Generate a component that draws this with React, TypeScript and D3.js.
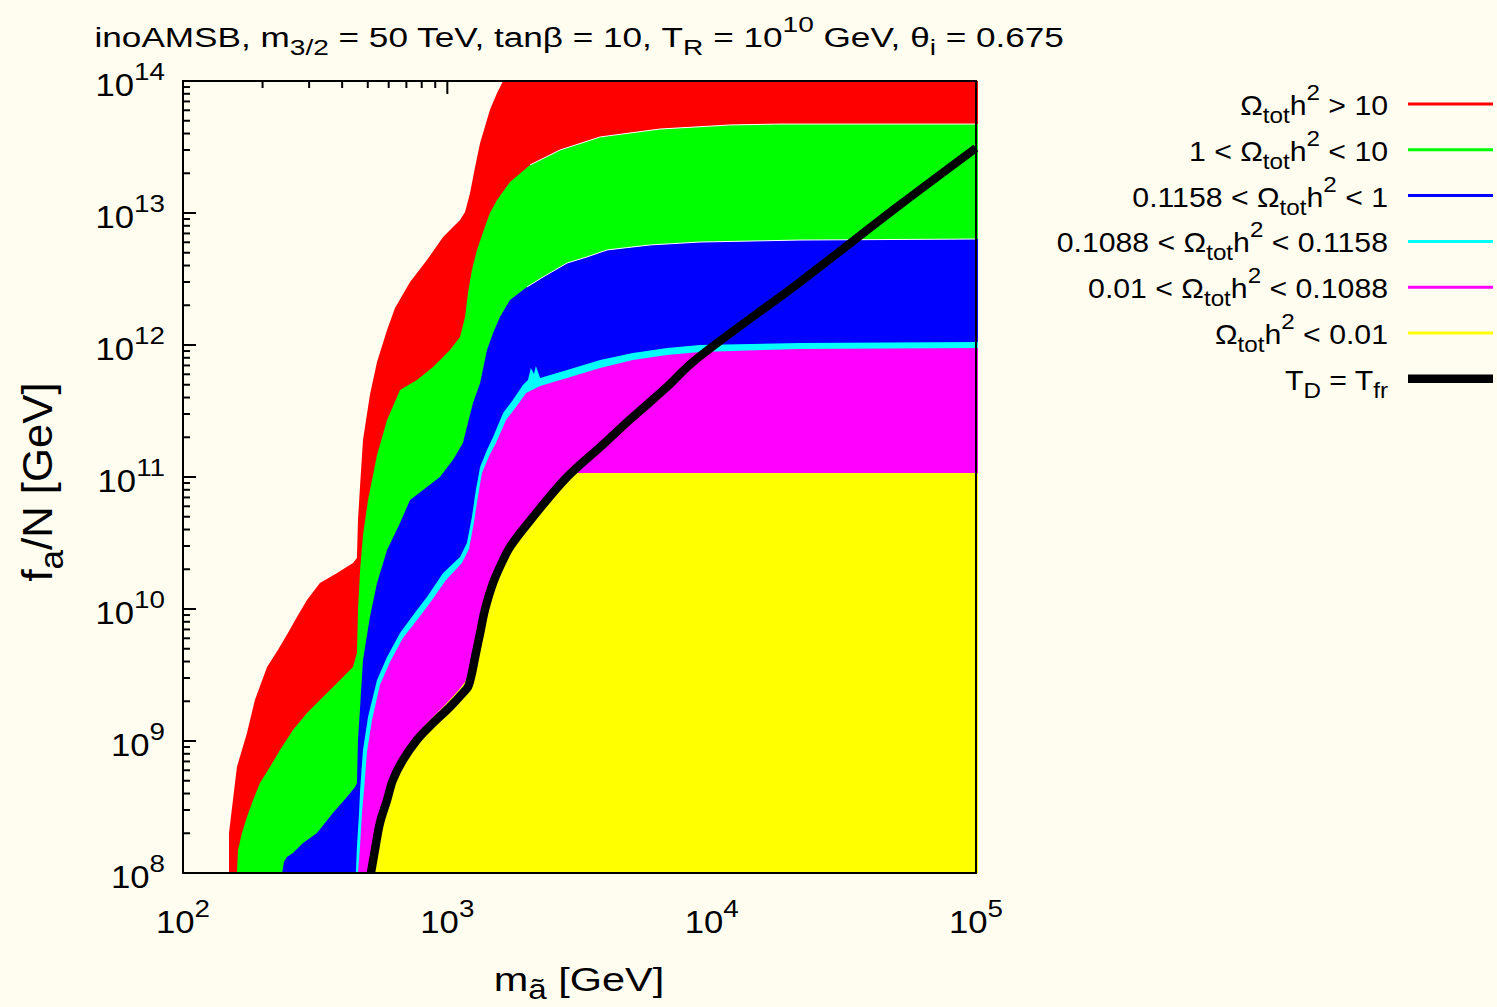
import React from "react";
import * as d3 from "d3";

const WIDTH = 1497;
const HEIGHT = 1007;
const PAPER = "#fffdf0";
const FONT = "'Liberation Sans', Arial, Helvetica, sans-serif";

// Frame of the plotting area in pixels
const frame = { left: 183, right: 976, top: 81, bottom: 873 };

// Axis ranges (GeV) and decade ticks
const massRange: [number, number] = [1e2, 1e5];
const faRange: [number, number] = [1e8, 1e14];
const massDecades = [2, 3, 4, 5];
const faDecades = [8, 9, 10, 11, 12, 13, 14];

// Contour edges in [log10(m_ã / GeV), log10(f_a/N / GeV)], from the bottom/left end
// Lower-left edge of Ω_tot h² > 10
const edgeOver10: [number, number][] = [
  [2.174, 8.0], [2.174, 8.303], [2.189, 8.553], [2.204, 8.803], [2.242, 9.061],
  [2.272, 9.311], [2.318, 9.561], [2.359, 9.689], [2.397, 9.818], [2.431, 9.939],
  [2.469, 10.068], [2.518, 10.197], [2.583, 10.273], [2.643, 10.348], [2.658, 10.386],
  [2.662, 10.674], [2.67, 10.939], [2.681, 11.28], [2.707, 11.621], [2.734, 11.871],
  [2.772, 12.114], [2.802, 12.28], [2.859, 12.477], [2.923, 12.644], [2.984, 12.818],
  [3.048, 12.947], [3.067, 13.008], [3.086, 13.152], [3.105, 13.348], [3.124, 13.53],
  [3.142, 13.652], [3.161, 13.78], [3.188, 13.909], [3.211, 14.0],
];
// Edge between Ω h² > 10 and 1 < Ω h² < 10
const edgeOne: [number, number][] = [
  [2.204, 8.0], [2.208, 8.174], [2.223, 8.303], [2.242, 8.424], [2.265, 8.553],
  [2.291, 8.682], [2.329, 8.803], [2.367, 8.932], [2.416, 9.083], [2.469, 9.212],
  [2.518, 9.311], [2.583, 9.439], [2.643, 9.561], [2.658, 9.667], [2.662, 9.992],
  [2.67, 10.295], [2.681, 10.561], [2.7, 10.826], [2.734, 11.167], [2.772, 11.432],
  [2.821, 11.659], [2.885, 11.735], [2.946, 11.833], [3.01, 11.962], [3.048, 12.061],
  [3.067, 12.212], [3.078, 12.394], [3.093, 12.568], [3.112, 12.72], [3.142, 12.894],
  [3.161, 13.0], [3.188, 13.099], [3.237, 13.235], [3.313, 13.364], [3.426, 13.477],
  [3.578, 13.576], [3.804, 13.636], [4.069, 13.667], [4.258, 13.674], [5.0, 13.674],
];
// Edge between 1 < Ω h² < 10 and 0.1158 < Ω h² < 1
const edgeTenth: [number, number][] = [
  [2.375, 8.0], [2.382, 8.083], [2.393, 8.121], [2.416, 8.152], [2.454, 8.227],
  [2.507, 8.303], [2.567, 8.455], [2.62, 8.576], [2.651, 8.652], [2.658, 8.682],
  [2.662, 9.008], [2.67, 9.258], [2.681, 9.614], [2.707, 9.939], [2.734, 10.197],
  [2.772, 10.447], [2.821, 10.652], [2.859, 10.826], [2.908, 10.902], [2.972, 11.0],
  [3.021, 11.129], [3.059, 11.258], [3.074, 11.379], [3.097, 11.561], [3.124, 11.712],
  [3.15, 11.962], [3.173, 12.091], [3.199, 12.212], [3.237, 12.341], [3.301, 12.439],
  [3.362, 12.515], [3.453, 12.621], [3.528, 12.667], [3.604, 12.72], [3.767, 12.758],
  [3.956, 12.78], [4.334, 12.795], [5.0, 12.803],
];
// Upper edge of the WMAP band 0.1088 < Ω h² < 0.1158
const edgeBandTop: [number, number][] = [
  [2.654, 8.0], [2.658, 8.197], [2.666, 8.455], [2.67, 8.629], [2.681, 8.932],
  [2.7, 9.182], [2.734, 9.462], [2.772, 9.636], [2.821, 9.818], [2.885, 9.992],
  [2.923, 10.091], [2.984, 10.273], [3.048, 10.394], [3.074, 10.5], [3.093, 10.697],
  [3.108, 10.902], [3.124, 11.076], [3.15, 11.205], [3.173, 11.303], [3.211, 11.485],
  [3.248, 11.583], [3.286, 11.697], [3.305, 11.735], [3.316, 11.826], [3.328, 11.78],
  [3.335, 11.841], [3.351, 11.75], [3.453, 11.811], [3.578, 11.886], [3.702, 11.939],
  [3.831, 11.977], [3.956, 12.0], [4.334, 12.015], [5.0, 12.023],
];
// Lower edge of the WMAP band
const edgeBandBottom: [number, number][] = [
  [2.662, 8.0], [2.67, 8.212], [2.677, 8.455], [2.685, 8.629], [2.696, 8.917],
  [2.715, 9.159], [2.745, 9.424], [2.783, 9.598], [2.832, 9.78], [2.897, 9.947],
  [2.934, 10.045], [2.995, 10.22], [3.055, 10.348], [3.082, 10.455], [3.101, 10.659],
  [3.116, 10.856], [3.131, 11.03], [3.158, 11.159], [3.184, 11.258], [3.222, 11.432],
  [3.26, 11.53], [3.298, 11.636], [3.351, 11.689], [3.453, 11.75], [3.578, 11.826],
  [3.702, 11.886], [3.831, 11.924], [3.956, 11.947], [4.334, 11.97], [5.0, 11.977],
];
// Edge between 0.01 < Ω h² < 0.1088 and Ω h² < 0.01
const edgeHundredth: [number, number][] = [
  [2.7, 8.0], [2.715, 8.174], [2.734, 8.379], [2.757, 8.553], [2.779, 8.705],
  [2.817, 8.856], [2.866, 9.008], [2.927, 9.144], [2.991, 9.273], [3.04, 9.379],
  [3.067, 9.447], [3.082, 9.515], [3.093, 9.636], [3.112, 9.818], [3.131, 9.992],
  [3.161, 10.197], [3.199, 10.371], [3.226, 10.47], [3.313, 10.697], [3.388, 10.886],
  [3.453, 11.03], [5.0, 11.03],
];
// T_D = T_fr curve
const freezeLine: [number, number][] = [
  [2.711, 8.0], [2.726, 8.174], [2.745, 8.379], [2.772, 8.553], [2.794, 8.705],
  [2.832, 8.856], [2.885, 9.008], [2.946, 9.136], [3.01, 9.258], [3.059, 9.364],
  [3.078, 9.409], [3.093, 9.515], [3.105, 9.636], [3.124, 9.818], [3.142, 9.992],
  [3.173, 10.197], [3.211, 10.371], [3.237, 10.47], [3.324, 10.697], [3.453, 11.0],
  [3.578, 11.227], [3.702, 11.455], [3.831, 11.682], [3.929, 11.871], [4.334, 12.477],
  [4.712, 13.061], [5.0, 13.492],
];

const colorOver10 = "#ff0000";
const colorOne = "#00ff00";
const colorTenth = "#0000ff";
const colorBand = "#00ffff";
const colorBelowBand = "#ff00ff";
const colorHundredth = "#ffff00";

type Run = { t: string; v?: "sub" | "sup" };
const omega: Run[] = [{ t: "Ω" }, { t: "tot", v: "sub" }, { t: "h" }, { t: "2", v: "sup" }];
const legendEntries: { runs: Run[]; color: string; width: number }[] = [
  { runs: [...omega, { t: " > 10" }], color: colorOver10, width: 3 },
  { runs: [{ t: "1 < " }, ...omega, { t: " < 10" }], color: colorOne, width: 3 },
  { runs: [{ t: "0.1158 < " }, ...omega, { t: " < 1" }], color: colorTenth, width: 3 },
  { runs: [{ t: "0.1088 < " }, ...omega, { t: " < 0.1158" }], color: colorBand, width: 3 },
  { runs: [{ t: "0.01 < " }, ...omega, { t: " < 0.1088" }], color: colorBelowBand, width: 3 },
  { runs: [...omega, { t: " < 0.01" }], color: colorHundredth, width: 3 },
  { runs: [{ t: "T" }, { t: "D", v: "sub" }, { t: " = T" }, { t: "fr", v: "sub" }], color: "#000000", width: 8.5 },
];

const titleRuns: Run[] = [
  { t: "inoAMSB, m" }, { t: "3/2", v: "sub" }, { t: " = 50 TeV, tanβ = 10, T" },
  { t: "R", v: "sub" }, { t: " = 10" }, { t: "10", v: "sup" }, { t: " GeV, θ" },
  { t: "i", v: "sub" }, { t: " = 0.675" },
];
const xLabelRuns: Run[] = [{ t: "m" }, { t: "ã", v: "sub" }, { t: " [GeV]" }];
const yLabelRuns: Run[] = [{ t: "f" }, { t: "a", v: "sub" }, { t: "/N [GeV]" }];

type RichProps = {
  runs: Run[]; x: number; y: number; size: number; sx?: number; sy?: number;
  anchor?: "start" | "middle" | "end"; rot?: number; sub?: number; sup?: number;
};
function Rich({ runs, x, y, size, sx = 1, sy = 1, anchor = "start", rot = 0, sub = 8, sup = 15 }: RichProps) {
  let cur = 0;
  return (
    <text
      transform={`translate(${x},${y})${rot ? ` rotate(${rot})` : ""} scale(${sx},${sy})`}
      fontSize={size}
      textAnchor={anchor}
      fontFamily={FONT}
      fill="#000"
      style={{ whiteSpace: "pre" }}
    >
      {runs.map((r, i) => {
        const target = r.v === "sub" ? sub : r.v === "sup" ? -sup : 0;
        const dy = target - cur;
        cur = target;
        return (
          <tspan key={i} dy={dy} fontSize={r.v ? size * 0.8 : size}>
            {r.t}
          </tspan>
        );
      })}
    </text>
  );
}

export default function App() {
  const x = d3.scaleLog().domain(massRange).range([frame.left, frame.right]);
  const y = d3.scaleLog().domain(faRange).range([frame.bottom, frame.top]);
  const px = (p: [number, number]): [number, number] => [x(10 ** p[0]), y(10 ** p[1])];

  const regionPath = (edge: [number, number][]) => {
    const pts = edge.map(px);
    const first = pts[0];
    const last = pts[pts.length - 1];
    const xr = frame.right + 2;
    if (last[0] < frame.right) pts.push([xr, last[1]]);
    else pts[pts.length - 1] = [xr, last[1]];
    pts.push([xr, frame.bottom], [first[0], frame.bottom]);
    return (d3.line()(pts) ?? "") + "Z";
  };

  const regions = [
    { edge: edgeOver10, color: colorOver10 },
    { edge: edgeOne, color: colorOne },
    { edge: edgeTenth, color: colorTenth },
    { edge: edgeBandTop, color: colorBand },
    { edge: edgeBandBottom, color: colorBelowBand },
    { edge: edgeHundredth, color: colorHundredth },
  ];

  const hairline = (edge: [number, number][]) =>
    d3.line()(edge.filter((p) => p[0] >= 3.3).map(px)) ?? "";

  const curve = d3.line().curve(d3.curveCatmullRom.alpha(0.5))(freezeLine.map(px)) ?? "";

  // minor + major ticks
  const xTicks: { v: number; major: boolean }[] = [];
  massDecades.slice(0, -1).forEach((e) => {
    for (let k = 1; k <= 9; k++) xTicks.push({ v: k * 10 ** e, major: k === 1 });
  });
  const yTicks: { v: number; major: boolean }[] = [];
  faDecades.slice(0, -1).forEach((e) => {
    for (let k = 1; k <= 9; k++) yTicks.push({ v: k * 10 ** e, major: k === 1 });
  });

  const legendTop = 104;
  const legendStep = 45.8;

  return (
    <svg
      width={WIDTH}
      height={HEIGHT}
      viewBox={`0 0 ${WIDTH} ${HEIGHT}`}
      style={{ position: "absolute", left: 0, top: 0, display: "block" }}
    >
      <defs>
        <clipPath id="plotClip">
          <rect x={frame.left} y={frame.top} width={frame.right - frame.left + 2} height={frame.bottom - frame.top} />
        </clipPath>
      </defs>
      <rect x={0} y={0} width={WIDTH} height={HEIGHT} fill={PAPER} />

      {/* ticks on the left and top axes */}
      <g stroke="#000" strokeWidth={2}>
        {xTicks.map((t, i) => (
          <line key={`xt${i}`} x1={x(t.v)} x2={x(t.v)} y1={frame.top} y2={frame.top + (t.major ? 13 : 7)} />
        ))}
        {yTicks.map((t, i) => (
          <line key={`yt${i}`} x1={frame.left} x2={frame.left + (t.major ? 13 : 7)} y1={y(t.v)} y2={y(t.v)} />
        ))}
      </g>

      <g clipPath="url(#plotClip)">
        {regions.map((r, i) => (
          <path key={i} d={regionPath(r.edge)} fill={r.color} stroke="none" />
        ))}
        <path d={hairline(edgeOne)} fill="none" stroke="#ffffff" strokeWidth={1} />
        <path d={hairline(edgeTenth)} fill="none" stroke="#ffffff" strokeWidth={1} />
        <path d={curve} fill="none" stroke="#000" strokeWidth={8.5} />
      </g>

      <rect
        x={frame.left}
        y={frame.top}
        width={frame.right - frame.left}
        height={frame.bottom - frame.top}
        fill="none"
        stroke="#000"
        strokeWidth={2}
      />

      {/* tick labels */}
      {massDecades.map((e) => (
        <Rich key={`xl${e}`} runs={[{ t: "10" }, { t: String(e), v: "sup" }]} x={x(10 ** e)} y={933}
          size={31} sx={1.12} anchor="middle" sup={16} />
      ))}
      {faDecades.map((e) => (
        <Rich key={`yl${e}`} runs={[{ t: "10" }, { t: String(e), v: "sup" }]} x={165} y={y(10 ** e) + 15}
          size={31} sx={1.12} anchor="end" sup={16} />
      ))}

      {/* axis titles */}
      <Rich runs={xLabelRuns} x={579} y={991} size={34} sx={1.22} anchor="middle" sub={8} />
      <Rich runs={yLabelRuns} x={52} y={482} size={38} sx={1.15} sy={1.1} anchor="middle" rot={-90} sub={10} />

      {/* title */}
      <Rich runs={titleRuns} x={94.5} y={47} size={28} sx={1.255} anchor="start" sub={8} sup={15} />

      {/* legend */}
      {legendEntries.map((e, i) => {
        const ly = legendTop + i * legendStep;
        return (
          <g key={`lg${i}`}>
            <Rich runs={e.runs} x={1388} y={ly + 11} size={28} sx={1.08} anchor="end" sub={8} sup={15} />
            <line x1={1408} x2={1493} y1={ly} y2={ly} stroke={e.color} strokeWidth={e.width} />
          </g>
        );
      })}
    </svg>
  );
}
